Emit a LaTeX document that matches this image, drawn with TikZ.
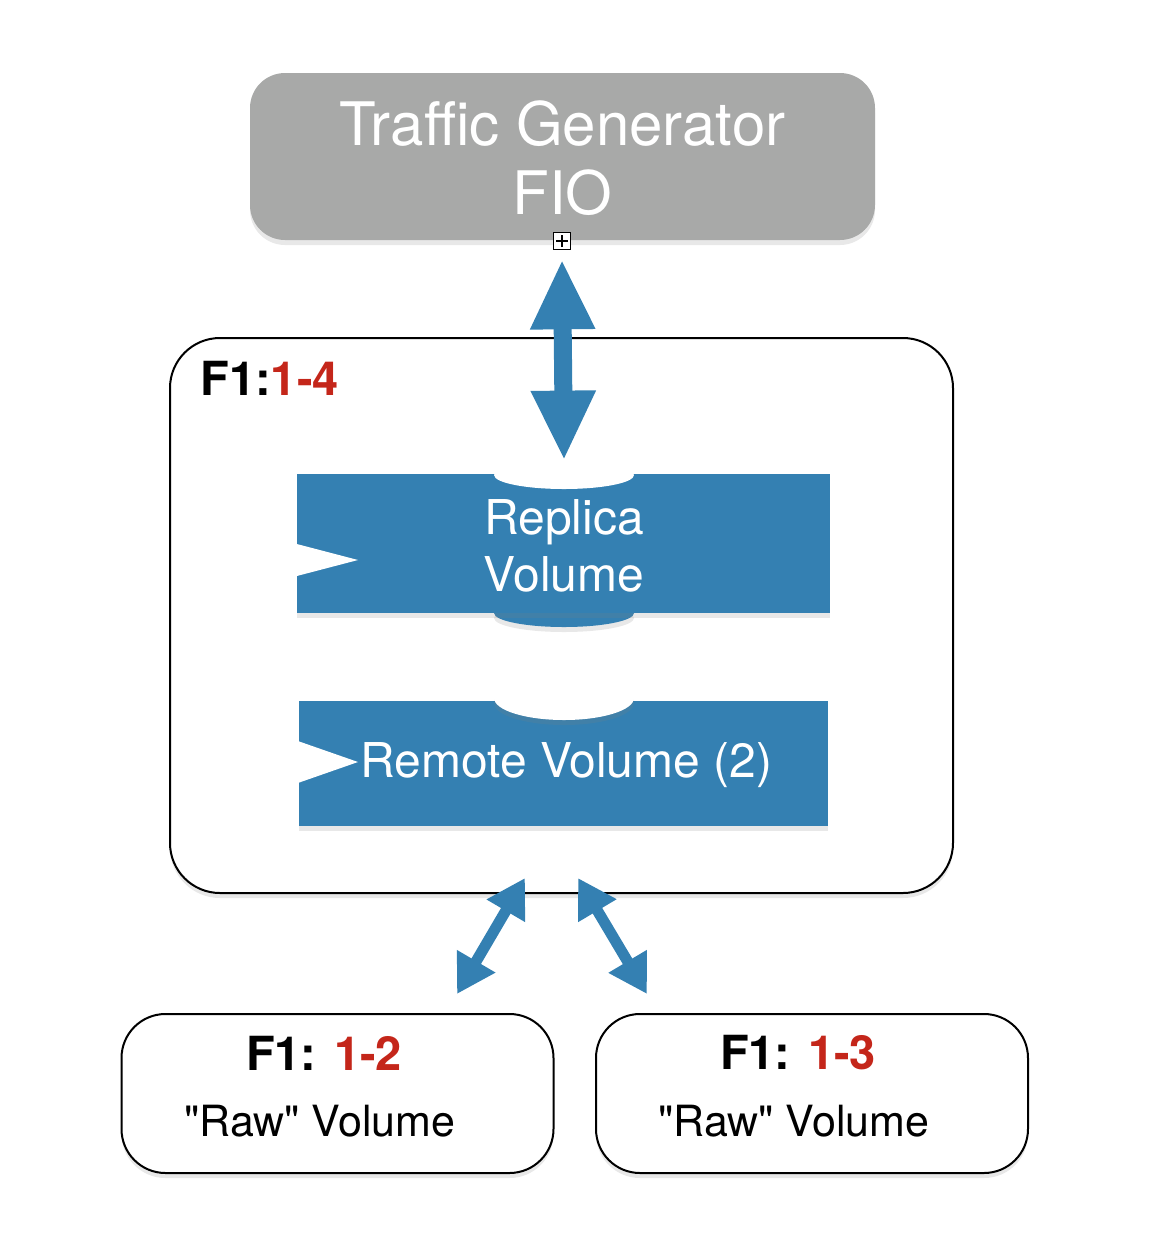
\documentclass[tikz,border=0pt]{standalone}
\usepackage{fontspec}
\setmainfont{TeX Gyre Heros}[Ligatures=TeXOff]
\usetikzlibrary{arrows.meta,shadows,shapes.geometric,positioning}

\definecolor{volblue}{RGB}{52,128,178}
\definecolor{gengray}{RGB}{168,169,168}
\definecolor{fred}{RGB}{196,38,26}

\tikzset{
    softshadow/.style={drop shadow={opacity=0.18,shadow xshift=0pt,shadow yshift=-2.5pt}},
    genbox/.style={fill=gengray,rounded corners=17.5pt,text=white,align=center,softshadow},
    volbox/.style={fill=volblue,softshadow},
    lid/.style={ellipse,minimum width=70pt,inner sep=0pt},
    rawbox/.style={draw,line width=1pt,fill=white,rounded corners=22pt,
        minimum width=216pt,minimum height=79.5pt,softshadow},
    tag/.style={font=\bfseries\fontsize{23.5}{27}\selectfont},
    rawtext/.style={font=\fontsize{21.5}{25}\selectfont},
    voltext/.style={text=white,font=\fontsize{24}{28.5}\selectfont,align=center},
    link/.style={volblue,line width=5.5pt,
        {Triangle[length=19pt,width=21pt]}-{Triangle[length=19pt,width=21pt]}},
}

\begin{document}
\begin{tikzpicture}[x=0.5pt,y=-0.5pt,every node/.style={inner sep=0pt}]
    \useasboundingbox (0,0) rectangle (1164,1260);

    % outer F1 box
    \node[draw,line width=1pt,fill=white,rounded corners=25pt,softshadow,
        minimum width=391.5pt,minimum height=277.5pt] (fbox) at (561.5,615.5) {};
    \node[tag,anchor=base west] (ftag) at (200,395) {F1:\textcolor{fred}{1-4}};

    % replica volume
    \node[lid,fill=volblue,minimum height=14pt,softshadow] (replicabot) at (564,613) {};
    \node[volbox,minimum width=266.5pt,minimum height=69.5pt] (replica) at (563.5,543.5) {};
    \node[lid,fill=white,minimum height=14pt] (replicatop) at (564,475) {};
    \fill[white] (293,543) -- (358,560) -- (293,577) -- cycle;
    \node[voltext] (replicatext) at (564,546) {Replica\\Volume};

    % remote volume
    \node[volbox,minimum width=264.5pt,minimum height=62.5pt] (remote) at (563.5,763.5) {};
    \node[lid,fill=white,minimum height=22pt,softshadow] (remotetop) at (564,698) {};
    \fill[white] (295,740) -- (358,762) -- (295,784) -- cycle;
    \node[voltext,anchor=west] (remotetext) at (360,765) {Remote Volume (2)};

    % traffic generator
    \node[genbox,minimum width=312.5pt,minimum height=83.5pt] (tgen) at (562.5,156.5) {};
    \node[text=white,align=center,font=\fontsize{30}{34.5}\selectfont] (tgentext)
        at (562.5,158) {Traffic Generator\\FIO};
    \node[draw,fill=white,line width=0.8pt,minimum size=8.5pt] (expand) at (562,241) {};
    \draw[line width=0.7pt] ([xshift=-3pt]expand.center) -- ([xshift=3pt]expand.center);
    \draw[line width=0.7pt] ([yshift=-3pt]expand.center) -- ([yshift=3pt]expand.center);

    \draw[volblue,line width=9pt,
        {Triangle[length=35pt,width=30pt]}-{Triangle[length=35pt,width=30pt]}]
        ([yshift=-4.5pt]expand.south) -- (replicatop.north);

    % raw volumes
    \node[rawbox] (rawa) at (337.5,1093.5) {};
    \node[rawbox] (rawb) at (812,1093.5) {};
    \node[tag] (rawatag) at (324,1053) {F1: \textcolor{fred}{1-2}};
    \node[rawtext] (rawatext) at (320,1121) {"Raw" Volume};
    \node[tag] (rawbtag) at (798,1053) {F1: \textcolor{fred}{1-3}};
    \node[rawtext] (rawbtext) at (794,1121) {"Raw" Volume};

    \draw[link] ([xshift=-18.25pt,yshift=8pt]fbox.south) -- ([xshift=59.75pt,yshift=9.5pt]rawa.north);
    \draw[link] ([xshift=8.25pt,yshift=8pt]fbox.south) -- ([xshift=-82.5pt,yshift=9.5pt]rawb.north);
\end{tikzpicture}
\end{document}
